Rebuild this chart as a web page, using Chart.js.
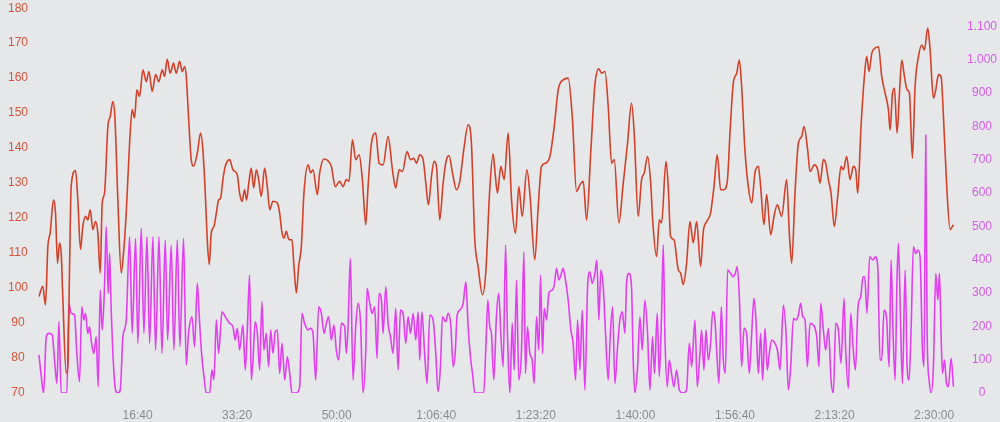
<!DOCTYPE html>
<html>
<head>
<meta charset="utf-8">
<script src="https://cdn.jsdelivr.net/npm/chart.js@4"></script>
<style>
  html, body { margin: 0; padding: 0; background: #e6e7e9; }
  #wrap { width: 1000px; height: 422px; position: relative; }
</style>
</head>
<body>
<div id="wrap"><canvas id="workout-chart"></canvas></div>
<script>
// Heart rate (bpm) over elapsed seconds
const hrSeconds = [
  10,48,75,99,122,156,176,196,216,233,
  250,283,300,317,333,377,400,427,450,477,
  500,524,551,578,601,625,645,668,702,725,
  752,772,802,836,859,886,920,946,970,993,
  1020,1054,1087,1114,1147,1181,1214,1248,1271,1298,
  1328,1361,1388,1422,1449,1472,
  1489,1512,1539,1563,1600,1633,1656,1680,1700,1720,
  1740,1767,1791,1814,1834,1857,1881,1925,1958,2001,
  2025,2049,2075,2095,2115,2142,2166,2193,2216,2243,
  2276,2303,2327,2360,2404,2427,2451,2471,2494,2521,
  2551,2571,2595,2618,2645,2671,2712,2739,2762,2806,
  2829,2873,2920,2946,2986,
  3030,3064,3097,3124,3158,3191,3225,3258,3292,3315,
  3349,3392,3426,3466,3516,3560,3593,3627,3660,3707,
  3741,3774,3801,3834,3868,3895,3921,3952,3978,4002,
  4035,4069,4102,4129,4163,4203,4236,4276,4320,4353,
  4387,4420,4464,4497,4537,4571,
  4588,4615,4648,4682,4722,4756,4796,4829,4863,4910,
  4940,4990,5024,5057,5098,5141,5185,5225,5275,5325,
  5366,5409,5443,5476,5510,5553,5593,5633,5660,5694,
  5727,5761,5788,5834,5878,5921,5961,5988,6028,6062,
  6089,6122,6156,
  6172,6213,6240,6263,6307,6330,6353,6387,6431,6454,
  6481,6514,6548,6581,6615,6655,6682,6715,6755,6789,
  6822,6856,6889,6923,6950,6983,7017,7044,7067,7100,
  7134,7168,7201,7235,7258,7291,7318,7359,7392,7426,
  7469,7519,7546,7570,7603,7637,7670,7694,
  7730,7754,7797,7831,7854,7888,7911,7938,7965,7998,
  8032,8065,8089,8122,8156,8189,8213,8233,8266,8300,
  8323,8347,8374,8407,8441,8474,8508,8541,8558,8582,
  8602,8628,8652,8675,8702,8729,8752,8782,8809,8843,
  8876,8903,8936,8960,8993,9017,9044,9070,9094,9127,
  9161,9194
];
const hrBpm = [
  97.6,100.5,95.2,111.9,115.7,125.2,121.4,107.1,112.9,110,
  96.7,75.7,77.6,106,129,133.6,125.2,111,117.6,120.5,
  119.5,122.4,116.7,119,115.7,104.3,124.3,127.1,146.2,149,
  153.3,149,125.2,104.3,110,121.4,141.4,151,148.6,156.7,
  154.8,162.4,159,161.9,156.2,161,159,162.4,160.5,165.4,
  161.4,164.3,161.4,164.8,161.9,163.3,
  160.5,149,136.7,134.8,138.6,144.3,139.5,127.1,113.8,106.7,
  115.7,117.6,121.4,125.2,125.7,131,134.8,136.7,133.8,132.4,
  127.1,124.8,128.1,125.2,129.5,134.3,128.6,133.8,131,126.2,
  134.3,129,122.4,124.8,124.3,121.4,115.7,114.3,116.2,113.8,
  113.8,106.2,98.6,106.2,111.9,127.1,135.2,132.9,133.8,126.7,
  132.9,136.9,136.2,134.8,129,
  130.5,129,131,130.5,142.4,136.7,138.1,131,118.1,129,
  141.4,144.3,135.7,135.2,143.3,133.8,128.6,133.8,133.3,139,
  136.7,137.1,135.7,138.1,136.7,130,123.8,131.9,136.2,134.8,
  119.5,130,136.7,137.8,132.9,128.1,130.5,139.5,146.7,141.4,
  113.8,106.2,98.1,104.3,128.1,138.4,
  133.8,127.1,134.8,131,144.3,125.2,115.7,129,120.5,133.8,
  127.1,108.1,123.3,134.8,135.7,137.6,146.2,156.7,159.5,160,
  149,127.6,129.5,130.5,119.5,139.5,158.1,162.7,161.4,161.9,
  151.9,135.7,136.7,118.6,130,141.4,152.9,144.3,120.5,131,
  132.9,137.6,129,
  120,109,119.5,118.6,136.2,129,114.8,113.8,105.2,104.3,
  101,107.1,119,112.9,119,106.2,116.2,119,121.4,129,
  138.1,128.1,128.1,130.5,144.3,158.6,161.4,165.2,157.6,139.5,
  129,124.3,132.9,134.8,129,118.1,126.7,115.2,120.5,123.8,
  120.5,131,115.7,107.1,127.1,141.4,143.3,146.2,
  139.5,133.3,135.2,133.8,130,136.7,135.7,131,127.1,117.6,
  126.2,134.8,133.8,137.6,131,134.8,133.8,127.1,146.2,160.5,
  166.2,161.9,167.1,168.6,169,160.5,155.7,151,145.2,155.7,
  157.1,144.3,155.7,165.2,160.5,156.7,155.7,137.1,157.6,166.2,
  169.5,168.1,174.3,168.1,154.3,156.7,161,160.5,149,129,
  116.7,118.1
];

// Power (W) over elapsed seconds
const powerSeconds = [
  10,33,56,83,109,143,166,190,210,233,
  250,290,310,333,367,390,417,440,460,477,
  500,517,538,561,584,605,625,645,668,685,
  705,719,735,752,779,802,826,853,886,920,
  946,980,1003,1037,1064,1094,1121,1154,1181,1215,
  1245,1278,1302,1338,1365,1399,1425,1462,1489,
  1512,1546,1573,1600,1620,1640,1667,1690,1724,1747,
  1767,1791,1814,1848,1881,1925,1958,1981,2001,2025,
  2058,2082,2102,2125,2142,2159,2182,2203,2226,2249,
  2269,2293,2316,2337,2360,2383,2404,2427,2451,2478,
  2504,2528,2551,2595,2628,2651,2678,2712,2739,2762,
  2789,2819,2846,2873,2896,2920,2946,2973,2996,3020,
  3047,
  3080,3097,3114,3137,3164,3191,3214,3238,3265,3292,
  3305,3332,3355,3382,3405,3426,3449,3466,3493,3516,
  3540,3566,3593,3617,3640,3667,3694,3717,3741,3768,
  3794,3818,3834,3855,3885,3908,3935,3968,3995,4018,
  4042,4062,4096,4119,4146,4170,4190,4210,4236,4270,
  4297,4320,4343,4364,4387,4437,4477,4497,4518,4537,
  4554,4578,4604,
  4628,4648,4672,4696,4715,4739,4763,4783,4806,4829,
  4856,4880,4896,4916,4940,4963,4983,5007,5030,5047,
  5067,5084,5107,5131,5165,5185,5208,5231,5252,5275,
  5298,5325,5352,5375,5399,5419,5443,5466,5493,5520,
  5543,5566,5593,5613,5633,5653,5677,5700,5727,5747,
  5771,5794,5821,5844,5868,5895,5911,5935,5961,5978,
  5995,6022,6045,6069,6095,6122,6146,
  6172,6192,6219,6240,6263,6280,6296,6320,6340,6363,
  6387,6414,6441,6481,6514,6541,6565,6598,6622,6648,
  6665,6688,6709,6732,6755,6776,6799,6816,6839,6863,
  6883,6903,6926,6956,6983,7003,7023,7044,7067,7091,
  7117,7144,7168,7191,7211,7235,7258,7278,7302,7325,
  7345,7369,7402,7426,7453,7486,7513,7536,7560,7587,
  7613,7637,7660,7680,7704,7727,
  7754,7787,7821,7844,7861,7888,7911,7938,7965,7988,
  8012,8039,8065,8095,8112,8139,8163,8186,8210,8236,
  8263,8286,8303,8326,8353,8387,8410,8434,8457,8474,
  8497,8524,8548,8568,8588,8608,8628,8642,8662,8682,
  8709,8729,8749,8769,8792,8816,8836,8859,8883,8899,
  8916,8930,8950,8970,8993,9017,9037,9054,9070,9084,
  9104,9124,9144,9171,9194
];
const powerWatts = [
  114,49,0,169,179,174,99,29,214,0,
  0,0,269,239,234,119,34,259,219,239,
  179,199,149,119,169,19,309,189,319,499,
  299,419,249,119,9,0,9,169,219,469,
  179,464,149,494,179,469,149,469,129,469,
  119,459,159,444,129,459,139,464,84,
  179,229,139,329,229,129,49,0,0,69,
  39,219,119,244,229,209,199,159,194,129,
  204,69,189,354,39,99,214,179,69,274,
  129,179,79,189,119,184,189,59,149,39,
  109,59,0,0,19,239,209,189,194,179,
  39,259,239,179,209,229,159,204,129,99,
  209,
  199,119,199,404,39,199,269,219,0,129,
  314,269,239,259,104,299,279,179,319,209,
  169,119,254,69,249,239,149,229,179,239,
  159,244,99,244,109,29,234,219,119,4,
  79,229,214,239,204,79,119,234,249,269,
  334,199,109,59,0,0,0,129,279,199,
  179,39,229,
  299,179,79,444,179,0,209,69,339,39,
  129,424,59,199,119,99,29,229,129,354,
  119,254,219,299,309,324,374,339,354,374,
  339,279,189,149,39,219,69,249,9,319,
  364,329,359,399,219,369,319,179,39,169,
  259,29,139,219,244,179,329,359,319,99,
  0,79,229,129,279,179,9,
  169,59,239,49,239,444,179,19,99,59,
  19,69,9,0,9,149,79,219,19,119,
  189,69,189,99,149,244,219,129,29,259,
  99,59,369,359,349,359,379,289,79,194,
  179,59,179,284,219,59,179,39,194,69,
  119,159,149,129,69,264,179,9,79,224,
  219,234,269,229,219,79,
  209,204,169,79,269,189,129,194,39,0,
  209,189,89,284,129,14,239,139,69,259,
  289,349,349,239,409,399,409,379,99,99,
  249,219,79,399,179,39,349,449,229,29,
  369,79,39,189,439,419,429,409,129,79,
  774,179,39,0,79,359,279,359,179,59,
  99,29,19,104,19
];

// Axis ticks
const timeTicks = [1000, 2000, 3000, 4000, 5000, 6000, 7000, 8000, 9000];
const hrTicks = [70, 80, 90, 100, 110, 120, 130, 140, 150, 160, 170, 180];
const powerTicks = [0, 100, 200, 300, 400, 500, 600, 700, 800, 900, 1000, 1100];

const HR_COLOR = '#d2412a';
const HR_LABEL = '#d4553d';
const POWER_COLOR = '#e23ff0';
const POWER_LABEL = '#d25ce8';

function formatElapsed(sec) {
    const h = Math.floor(sec / 3600);
    const m = Math.floor((sec % 3600) / 60);
    const s = sec % 60;
    const pad = (n) => String(n).padStart(2, '0');
    return h > 0 ? h + ':' + pad(m) + ':' + pad(s) : m + ':' + pad(s);
}

function formatThousands(v) {
    return String(v).replace(/\B(?=(\d{3})+(?!\d))/g, '.');
}

function useTicks(list) {
    return (axis) => { axis.ticks = list.map(v => ({ value: v })); };
}

function createWorkoutChart() {
    const node = document.getElementById('workout-chart');

    Chart.defaults.font.family = '"Liberation Sans", Arial, sans-serif';
    Chart.defaults.font.size = 12;

    new Chart(node, {
        type: 'line',
        data: {
            datasets: [{
                label: 'Heart rate',
                data: hrSeconds.map((t, i) => ({ x: t, y: hrBpm[i] })),
                yAxisID: 'yHr',
                borderColor: HR_COLOR,
                borderWidth: 1.6,
                pointRadius: 0,
                cubicInterpolationMode: 'monotone',
            }, {
                label: 'Power',
                data: powerSeconds.map((t, i) => ({ x: t, y: powerWatts[i] })),
                yAxisID: 'yPow',
                borderColor: POWER_COLOR,
                borderWidth: 1.6,
                pointRadius: 0,
                cubicInterpolationMode: 'monotone',
            }],
        },
        options: {
            responsive: true,
            maintainAspectRatio: false,
            animation: false,
            layout: { padding: 0 },
            plugins: {
                legend: { display: false },
                tooltip: { enabled: false },
            },
            scales: {
                x: {
                    type: 'linear',
                    min: 0,
                    max: 9230,
                    afterBuildTicks: useTicks(timeTicks),
                    afterFit: (axis) => { axis.height = 29; },
                    grid: { display: false, drawTicks: false },
                    border: { display: false },
                    ticks: {
                        color: '#8b8b8b',
                        padding: 15,
                        maxRotation: 0,
                        autoSkip: false,
                        callback: (v) => formatElapsed(v),
                    },
                },
                yHr: {
                    position: 'left',
                    min: 70,
                    max: 180,
                    afterBuildTicks: useTicks(hrTicks),
                    afterFit: (axis) => { axis.width = 38; },
                    // tick marks are not drawn (grid hidden), the length only spaces the labels
                    grid: { display: false, drawTicks: true, tickLength: 9 },
                    border: { display: false },
                    ticks: {
                        color: HR_LABEL,
                        padding: 1,
                        crossAlign: 'center',
                        autoSkip: false,
                    },
                },
                yPow: {
                    position: 'right',
                    min: 0,
                    max: 1155,
                    afterBuildTicks: useTicks(powerTicks),
                    afterFit: (axis) => { axis.width = 43; },
                    grid: { display: false, drawTicks: true, tickLength: 9 },
                    border: { display: false },
                    ticks: {
                        color: POWER_LABEL,
                        padding: 1,
                        crossAlign: 'center',
                        autoSkip: false,
                        callback: (v) => formatThousands(v),
                    },
                },
            },
        },
    });
}

createWorkoutChart();
</script>
</body>
</html>
